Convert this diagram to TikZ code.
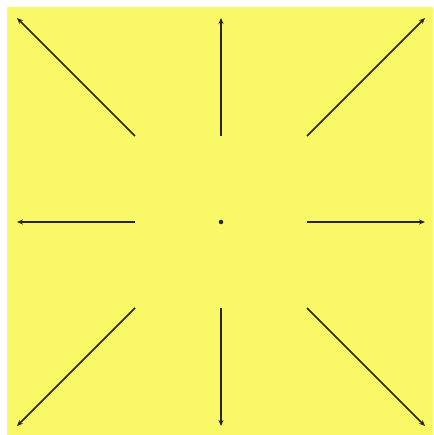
\documentclass[tikz,border=0pt]{standalone}
\usepackage{tikz}
\usetikzlibrary{arrows.meta}
\definecolor{padyellow}{HTML}{F9F866}
\definecolor{inkdark}{HTML}{262516}

\begin{document}
\begin{tikzpicture}[x=1pt, y=1pt,
    ray/.style={inkdark, line width=1.5pt, -{Stealth[length=6pt, width=5pt]}},
    centredot/.style={circle, fill=inkdark, inner sep=0pt, minimum size=4.5pt}]
  \useasboundingbox (-221,-213) rectangle (212,222);
  \fill[padyellow] (-214,-213) rectangle (212,215);
  \node[centredot] (o) at (0,0) {};
  % eight rays pointing away from the centre
  \foreach \dx/\dy/\nm in {0/1/n, 1/1/ne, 1/0/e, 1/-1/se, 0/-1/s, -1/-1/sw, -1/0/w, -1/1/nw} {
    \coordinate (\nm-in) at (86*\dx, 86*\dy);
    \coordinate (\nm-out) at (204*\dx, 204*\dy);
    \draw[ray] (\nm-in) -- (\nm-out);
  }
\end{tikzpicture}
\end{document}
